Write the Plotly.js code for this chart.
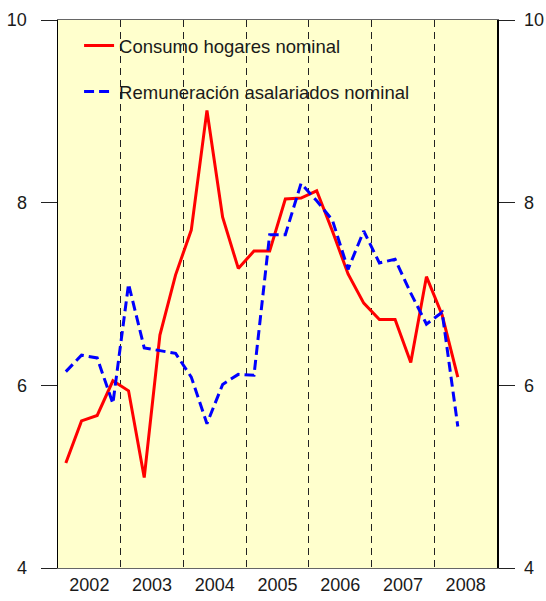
<!DOCTYPE html>
<html>
<head>
<meta charset="utf-8">
<script src="https://cdn.plot.ly/plotly-3.0.1.min.js"></script>
<style>html,body{margin:0;padding:0;background:#fff;}#chart{width:546px;height:601px;}</style>
</head>
<body>
<div id="chart"></div>
<script>
// Quarterly observations, 2002 Q1 – 2008 Q2 (x = mid-quarter position in years)
const quarters = [
  2002.125, 2002.375, 2002.625, 2002.875,
  2003.125, 2003.375, 2003.625, 2003.875,
  2004.125, 2004.375, 2004.625, 2004.875,
  2005.125, 2005.375, 2005.625, 2005.875,
  2006.125, 2006.375, 2006.625, 2006.875,
  2007.125, 2007.375, 2007.625, 2007.875,
  2008.125, 2008.375
];
const consumoHogares = [
  5.15, 5.61, 5.67, 6.05,
  5.94, 4.99, 6.55, 7.21,
  7.70, 9.01, 7.84, 7.28,
  7.47, 7.47, 8.04, 8.05,
  8.13, 7.69, 7.22, 6.90,
  6.72, 6.72, 6.25, 7.19,
  6.77, 6.09
];
const remuneracion = [
  6.15, 6.33, 6.30, 5.80,
  7.11, 6.41, 6.38, 6.35,
  6.09, 5.58, 6.01, 6.12,
  6.11, 7.65, 7.65, 8.21,
  8.02, 7.81, 7.27, 7.69,
  7.34, 7.38, 7.01, 6.67,
  6.80, 5.55
];
const yearCenters = [2002.5, 2003.5, 2004.5, 2005.5, 2006.5, 2007.5, 2008.5];
const yearLabels = ['2002', '2003', '2004', '2005', '2006', '2007', '2008'];
const yearBoundaries = [2003, 2004, 2005, 2006, 2007, 2008];
const yTicks = [4, 6, 8, 10];

const FONT = '"Liberation Sans", Arial, sans-serif';

const traces = [
  {
    x: quarters, y: consumoHogares, type: 'scatter', mode: 'lines',
    name: 'Consumo hogares nominal',
    line: {color: '#FF0000', width: 3},
    legend: 'legend'
  },
  {
    x: quarters, y: remuneracion, type: 'scatter', mode: 'lines',
    name: 'Remuneración asalariados nominal',
    line: {color: '#0000FF', width: 3, dash: '10px,5px'},
    yaxis: 'y2',
    legend: 'legend2'
  }
];

const legendBase = {
  xanchor: 'left', yanchor: 'middle', x: 0.048,
  bgcolor: 'rgba(0,0,0,0)', borderwidth: 0,
  font: {family: FONT, size: 18.5, color: '#1a1a1a'}
};

const layout = {
  width: 546, height: 601,
  margin: {l: 58, r: 49, t: 20, b: 33},
  paper_bgcolor: '#FFFFFF',
  plot_bgcolor: '#FFFFCD',
  font: {family: FONT, size: 18, color: '#1a1a1a'},
  showlegend: true,
  legend: Object.assign({}, legendBase, {y: 0.9526}),
  legend2: Object.assign({}, legendBase, {y: 0.8686}),
  xaxis: {
    range: [2002, 2009],
    tickmode: 'array', tickvals: yearCenters, ticktext: yearLabels,
    ticks: '', showgrid: false, zeroline: false,
    showline: true, mirror: true, linecolor: '#666', linewidth: 1,
    tickfont: {family: FONT, size: 18, color: '#1a1a1a'},
    minor: {
      tickmode: 'array', tickvals: yearBoundaries,
      showgrid: true, gridcolor: '#222', gridwidth: 1.2, griddash: '7px,5px', ticks: ''
    },
    fixedrange: true
  },
  yaxis: {
    range: [4, 10],
    tickmode: 'array', tickvals: yTicks,
    ticks: 'outside', ticklen: 16, tickwidth: 1, tickcolor: '#222',
    ticklabelstandoff: 10,
    showgrid: false, zeroline: false,
    showline: true, linecolor: '#000', linewidth: 1.5,
    tickfont: {family: FONT, size: 18, color: '#1a1a1a'},
    fixedrange: true
  },
  yaxis2: {
    range: [4, 10], overlaying: 'y', side: 'right', anchor: 'x',
    tickmode: 'array', tickvals: yTicks,
    ticks: 'outside', ticklen: 16, tickwidth: 1, tickcolor: '#222',
    ticklabelstandoff: 6,
    showgrid: false, zeroline: false,
    showline: true, linecolor: '#000', linewidth: 1.5,
    tickfont: {family: FONT, size: 18, color: '#1a1a1a'},
    fixedrange: true
  }
};

Plotly.newPlot('chart', traces, layout, {displayModeBar: false, staticPlot: true});
</script>
</body>
</html>
